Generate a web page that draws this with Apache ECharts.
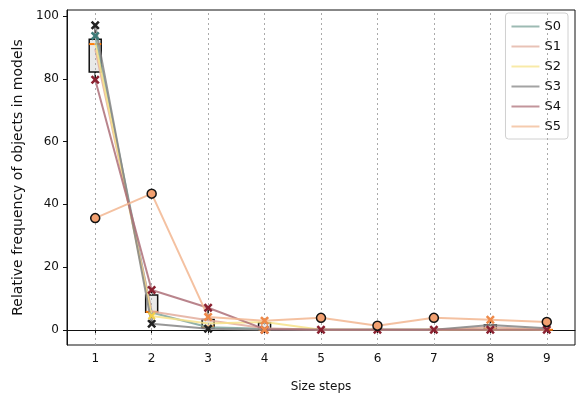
<!DOCTYPE html>
<html><head><meta charset="utf-8">
<script src="https://cdn.jsdelivr.net/npm/echarts@6/dist/echarts.min.js"></script>
<style>html,body{margin:0;padding:0;background:#fff}#c{width:577px;height:398px}</style>
</head><body><div id="c"></div>
<script>
const xSteps = [1, 2, 3, 4, 5, 6, 7, 8, 9];
const seriesNames = ['S0', 'S1', 'S2', 'S3', 'S4', 'S5'];
const s0 = [93.7, 5.5, 0.8, 0.3, 0, 0, 0, 0, 0];
const s1 = [89.5, 5.8, 3.0, 0.5, 0, 0, 0, 0.8, 0];
const s2 = [91.5, 4.4, 2.0, 2.5, 0, 0, 0, 0, 0];
const s3 = [97.1, 1.9, 0.3, 0, 0, 0, 0, 1.5, 0.5];
const s4 = [79.7, 12.7, 7.0, 0.2, 0, 0, 0, 0, 0];
const s5 = [35.6, 43.4, 4.1, 2.9, 3.8, 1.3, 3.8, 3.2, 2.5];
const boxMin = [79.7, 1.9, 0.3, 0, 0, 0, 0, 0, 0];
const boxQ1 = [82.2, 5.6, 0.6, 0, 0, 0, 0, 0.3, 0];
const boxMed = [91.1, 5.7, 1.0, 0, 0, 0, 0, 0.3, 0];
const boxQ3 = [92.6, 11.1, 3.3, 2.2, 0, 0, 0, 1.5, 0];
const boxMax = [97.1, 12.7, 7.0, 2.9, 0, 0, 0, 3.2, 0];
// markers
const markBlackX = [97.1, 1.9, 0.3, null, null, null, null, null, null];
const markTealX = [93.7, null, null, null, null, null, null, null, null];
const markRedX = [79.7, 12.7, 7.0, 0, 0, 0, 0, 0, 0];
const markOrangeX = [null, null, 4.1, 2.9, null, null, null, 3.2, null];
const markOrangeX2 = [null, null, null, 0, null, null, null, null, null];
const markYellowX = [null, 4.4, null, null, null, null, null, null, null];
const markCircle = [35.6, 43.4, null, null, 3.8, 1.3, 3.8, null, 2.5];
const yTicks = [0, 20, 40, 60, 80, 100];

const allSeries = [s0, s1, s2, s3, s4, s5];
const colors = ['#7fa59c', '#e3ad9c', '#f7e38a', '#858585', '#ad6f78', '#f2b690'];
const legendColors = ['#9dbab3', '#e8c2b6', '#f8eaa8', '#a3a3a3', '#c2959b', '#f5cbae'];
const XSYM = 'path://M0,2 L2,0 L5,3 L8,0 L10,2 L7,5 L10,8 L8,10 L5,7 L2,10 L0,8 L3,5 Z';
const font = 'DejaVu Sans';

function pts(arr) {
  const out = [];
  arr.forEach((v, i) => { if (v !== null) out.push([xSteps[i], v]); });
  return out;
}

const series = [];
series.push({
  type: 'custom', name: 'box', z: 2, silent: true,
  data: xSteps.map((x, i) => [x, boxMin[i], boxQ1[i], boxMed[i], boxQ3[i], boxMax[i]]),
  renderItem: function (params, api) {
    const x = api.value(0);
    const pMin = api.coord([x, api.value(1)]);
    const pQ1 = api.coord([x, api.value(2)]);
    const pMed = api.coord([x, api.value(3)]);
    const pQ3 = api.coord([x, api.value(4)]);
    const pMax = api.coord([x, api.value(5)]);
    const w = 12, cx = pQ1[0];
    const ls = { stroke: '#111', lineWidth: 1.5 };
    return {
      type: 'group', children: [
        { type: 'line', shape: { x1: cx, y1: pMin[1], x2: cx, y2: pQ1[1] }, style: ls },
        { type: 'line', shape: { x1: cx, y1: pQ3[1], x2: cx, y2: pMax[1] }, style: ls },
        { type: 'rect', shape: { x: cx - w / 2, y: pQ3[1], width: w, height: pQ1[1] - pQ3[1] },
          style: { fill: 'rgba(225,225,225,0.75)', stroke: '#111', lineWidth: 1.5 } },
        { type: 'line', shape: { x1: cx - w / 2, y1: pMed[1], x2: cx + w / 2, y2: pMed[1] },
          style: { stroke: '#ff7f0e', lineWidth: 2 } }
      ]
    };
  }
});
allSeries.forEach((arr, k) => {
  series.push({
    type: 'line', name: seriesNames[k], z: 3, symbol: 'none', showSymbol: false,
    data: pts(arr), color: colors[k],
    lineStyle: { width: 2, color: colors[k], opacity: 0.85 },
    markLine: k === 0 ? {
      silent: true, symbol: 'none', label: { show: false },
      lineStyle: { color: '#aaaaaa', type: [2, 3], width: 1 },
      data: xSteps.map(x => ({ xAxis: x }))
    } : undefined
  });
});
function scat(arr, sym, size, fill, border, bw) {
  series.push({
    type: 'scatter', z: 5, symbol: sym, symbolSize: size, silent: true,
    data: pts(arr),
    itemStyle: { color: fill, borderColor: border, borderWidth: bw, opacity: 1 }
  });
}
scat(markRedX, XSYM, 9, '#8a2130', '#8a2130', 0);
scat(markBlackX, XSYM, 9, '#222222', '#222222', 0);
scat(markTealX, XSYM, 9, '#3d7b78', '#3d7b78', 0);
scat(markOrangeX, XSYM, 9, '#ee8a4a', '#ee8a4a', 0);
scat(markOrangeX2, XSYM, 9, '#ee8a4a', '#ee8a4a', 0);
scat(markYellowX, XSYM, 8, '#f2d04a', '#f2d04a', 0);
scat(markCircle, 'circle', 9, '#f2a070', '#111111', 1.5);

const chart = echarts.init(document.getElementById('c'), null, { renderer: 'canvas' });
chart.setOption({
  animation: false,
  backgroundColor: '#fff',
  textStyle: { fontFamily: font },
  grid: { left: 67, right: 2, top: 10, bottom: 52, show: true, borderColor: '#111', borderWidth: 1 },
  legend: {
    data: seriesNames.map((n, k) => ({ name: n, icon: 'rect', itemStyle: { color: legendColors[k] } })),
    orient: 'vertical', right: 9, top: 13,
    itemWidth: 28, itemHeight: 2, itemGap: 5, padding: [6, 7, 5, 6],
    backgroundColor: '#fff', borderColor: '#d0d0d0', borderWidth: 1, borderRadius: 3,
    textStyle: { fontFamily: font, fontSize: 13, lineHeight: 15, color: '#111' }
  },
  xAxis: {
    type: 'value', min: 0.5, max: 9.5,
    name: 'Size steps', nameLocation: 'middle', nameGap: 36,
    nameTextStyle: { fontFamily: font, fontSize: 12, color: '#111' },
    axisLine: { show: true, lineStyle: { color: '#111' } },
    axisTick: { show: true, length: 4, customValues: xSteps, lineStyle: { color: '#111' } },
    axisLabel: { customValues: xSteps, fontFamily: font, fontSize: 12, color: '#111', margin: 8 },
    splitLine: { show: false }
  },
  yAxis: {
    type: 'value', min: -4.86, max: 101.96,
    name: 'Relative frequency of objects in models', nameLocation: 'middle', nameGap: 40,
    nameTextStyle: { fontFamily: font, fontSize: 14, color: '#111' },
    axisLine: { show: true, lineStyle: { color: '#111' } },
    axisTick: { show: true, length: 4, customValues: yTicks, lineStyle: { color: '#111' } },
    axisLabel: { customValues: yTicks, fontFamily: font, fontSize: 12, color: '#111', margin: 8 },
    splitLine: { show: false }
  },
  series: series
});
</script></body></html>
